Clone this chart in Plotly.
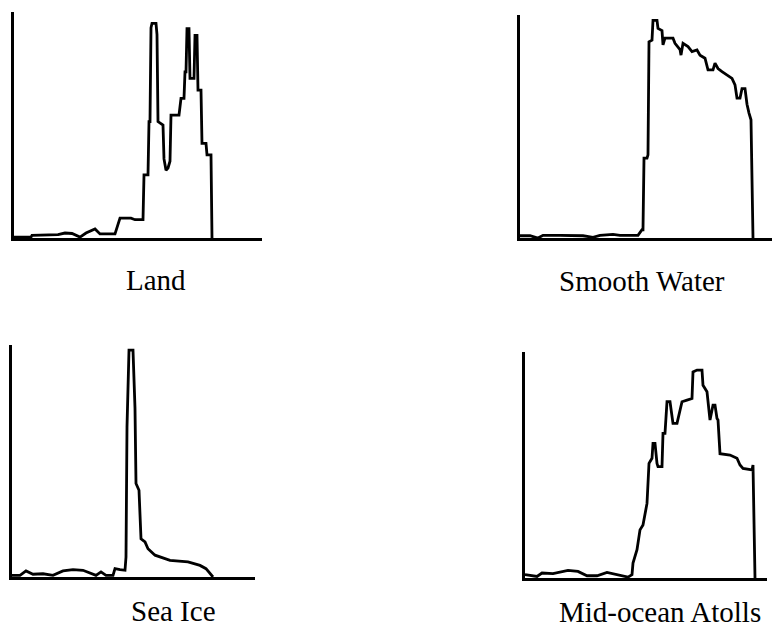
import plotly.graph_objects as go

# ---- data (gray level vs. relative frequency) ----
land_x = [0, 17, 18, 44, 51, 58, 66, 72, 81, 86, 101, 104, 106, 117, 121, 129, 130, 134, 135, 136,
          137, 138, 142, 143, 144, 149, 150, 152, 154, 156, 157, 165, 166, 167, 170, 171, 172, 173,
          175, 176, 180, 181, 183, 184, 187, 188, 192, 193, 197, 198]
land_y = [0.4, 0.4, 1.2, 1.5, 2.2, 2.0, 0.4, 2.2, 4.0, 1.8, 1.8, 6.0, 8.8, 8.8, 8.1, 8.1, 27.9, 27.9, 51.5, 51.5,
          93.0, 95.0, 95.0, 90.0, 51.5, 50.0, 35.0, 30.0, 31.0, 34.0, 54.4, 54.4, 58.0, 61.8, 61.8, 73.5, 73.5, 92.6,
          92.6, 70.6, 70.6, 89.7, 89.7, 65.4, 65.4, 41.9, 41.9, 36.8, 36.8, 0.0]

water_x = [0, 10, 18, 23, 40, 63, 73, 80, 93, 100, 118, 122, 123, 124, 127, 128, 129, 132, 133, 137,
           138, 142, 143, 145, 153, 155, 160, 161, 163, 168, 172, 177, 180, 185, 188, 193, 195, 198,
           202, 207, 212, 215, 217, 220, 222, 225, 227, 229, 231, 233]
water_y = [1.0, 1.0, 0.0, 1.2, 1.2, 1.0, 0.3, 1.2, 1.6, 1.2, 1.2, 3.7, 3.7, 35.8, 35.8, 37.3, 88.0, 88.7, 97.6, 97.6,
           94.0, 93.0, 86.6, 89.6, 89.6, 87.3, 84.5, 82.0, 87.3, 85.8, 83.6, 84.3, 82.0, 80.6, 75.4, 75.4, 78.4, 76.0,
           74.6, 73.0, 71.6, 68.7, 62.7, 62.7, 67.0, 67.0, 60.0, 56.0, 53.0, 0.0]

ice_x = [0, 8, 14, 21, 31, 41, 51, 61, 71, 84, 89, 94, 101, 103, 108, 113, 114, 115, 117, 121,
         123, 124, 127, 129, 133, 136, 143, 153, 158, 176, 188, 194, 199, 201]
ice_y = [0.7, 0.7, 2.6, 1.2, 1.4, 0.7, 2.6, 3.2, 2.9, 0.7, 2.2, 0.7, 0.7, 3.6, 3.2, 2.9, 8.6, 64.7, 97.8, 97.8,
         72.7, 40.3, 37.4, 16.5, 15.1, 12.2, 9.4, 7.9, 7.2, 6.5, 5.0, 3.6, 0.7, 0.0]

atoll_x = [0, 12, 17, 28, 43, 53, 62, 72, 82, 92, 103, 107, 108, 112, 115, 118, 122, 124, 127, 128,
           130, 132, 133, 137, 138, 140, 142, 145, 148, 152, 155, 157, 162, 167, 168, 172, 177, 178,
           182, 185, 188, 190, 192, 193, 195, 205, 212, 215, 218, 227, 228, 230]
atoll_y = [1.5, 0.7, 2.2, 1.9, 3.4, 2.9, 1.0, 1.0, 2.5, 1.5, 0.4, 1.5, 6.6, 12.5, 21.3, 23.5, 33.0, 50.7, 53.0, 59.6,
           59.6, 50.7, 49.3, 49.3, 64.0, 64.0, 78.0, 78.0, 68.4, 68.4, 73.5, 78.0, 78.7, 79.4, 91.2, 92.0, 92.0, 85.3,
           82.4, 69.9, 76.5, 76.5, 70.6, 69.9, 55.0, 54.4, 53.0, 50.0, 48.5, 47.8, 50.0, 0.0]

panel_titles = ["Land", "Smooth Water", "Sea Ice", "Mid-ocean Atolls"]
panel_xmax = [248, 252, 243, 242]

W, H = 778, 630
# pixel boxes: (left, right, top, bottom)
boxes = [(14, 262, 12, 238), (520, 772, 15, 238), (12, 255, 345, 577), (525, 767, 352, 578)]
label_pos = [(156, 280), (642, 281), (173, 611), (660, 612)]

series = [(land_x, land_y), (water_x, water_y), (ice_x, ice_y), (atoll_x, atoll_y)]

fig = go.Figure()
layout = dict(width=W, height=H, margin=dict(l=0, r=0, t=0, b=0),
              paper_bgcolor="white", plot_bgcolor="white", showlegend=False)
annotations = []
for i, ((xs, ys), (l, r, t, b)) in enumerate(zip(series, boxes)):
    n = "" if i == 0 else str(i + 1)
    fig.add_trace(go.Scatter(x=xs, y=ys, mode="lines",
                             line=dict(color="black", width=2.8),
                             xaxis="x" + n, yaxis="y" + n, hoverinfo="skip"))
    ax = dict(domain=[l / W, r / W], range=[0, panel_xmax[i]], showline=True, linecolor="black",
              linewidth=2.6, showgrid=False, zeroline=False, showticklabels=False, ticks="",
              anchor="y" + n)
    ay = dict(domain=[1 - b / H, 1 - t / H], range=[0, 100], showline=True, linecolor="black",
              linewidth=2.8, showgrid=False, zeroline=False, showticklabels=False, ticks="",
              anchor="x" + n)
    layout["xaxis" + n] = ax
    layout["yaxis" + n] = ay
    cx, cy = label_pos[i]
    annotations.append(dict(text=panel_titles[i], x=cx / W, y=1 - cy / H, xref="paper", yref="paper",
                            showarrow=False, xanchor="center", yanchor="middle",
                            font=dict(family="Liberation Serif", size=29, color="black")))
layout["annotations"] = annotations
fig.update_layout(**layout)
fig.write_html("out.html")
